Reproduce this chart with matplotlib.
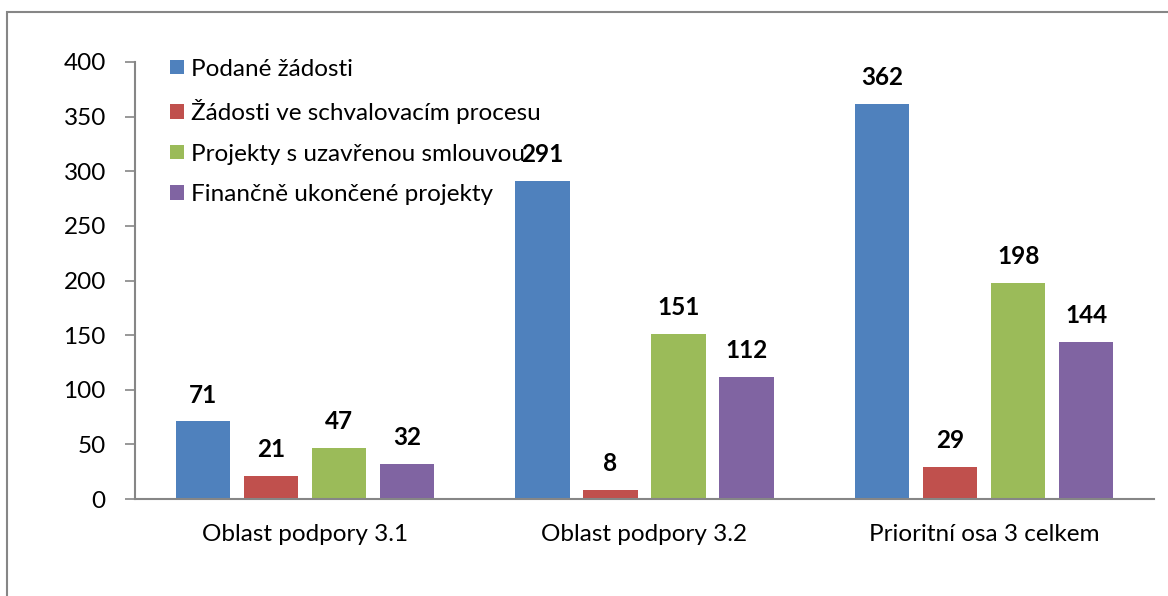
import matplotlib.pyplot as plt
from matplotlib.patches import Rectangle
import numpy as np

categories = ['Oblast podpory 3.1', 'Oblast podpory 3.2', 'Prioritní osa 3 celkem']
series_names = ['Podané žádosti', 'Žádosti ve schvalovacím procesu',
                'Projekty s uzavřenou smlouvou', 'Finančně ukončené projekty']
podane = [71, 291, 362]
schvalovaci = [21, 8, 29]
smlouva = [47, 151, 198]
ukoncene = [32, 112, 144]
colors = ['#4F81BD', '#C0504D', '#9BBB59', '#8064A2']

plt.rcParams['font.family'] = ['Lato', 'DejaVu Sans']
fs = 17.5

fig = plt.figure(figsize=(11.68, 5.96), dpi=100)
ax = fig.add_axes([135/1168, 1-499/596, 1019/1168, 437/596])

# outer chart frame (cut off at right and bottom)
fig.patches.append(Rectangle((7/1168, -0.1), 1.2, 1.1 - 12/596, transform=fig.transFigure,
                             fill=False, edgecolor='#868686', lw=1.5))

x = np.arange(len(categories))
width = 0.16
offsets = [-0.3, -0.1, 0.1, 0.3]
for vals, name, c, off in zip([podane, schvalovaci, smlouva, ukoncene], series_names, colors, offsets):
    bars = ax.bar(x + off, vals, width, color=c, label=name)
    for b, v in zip(bars, vals):
        ax.annotate(str(v), (b.get_x() + b.get_width()/2, v), xytext=(0, 19),
                    textcoords='offset points', ha='center', va='center',
                    fontsize=fs, fontweight='bold')

ax.set_xlim(-0.5, 2.5)
ax.set_ylim(0, 400)
ax.set_yticks(np.arange(0, 401, 50))
ax.set_xticks(x)
ax.set_xticklabels(categories)
ax.tick_params(axis='x', length=0, pad=18, labelsize=fs)
ax.tick_params(axis='y', length=7, width=1.2, color='#868686', labelsize=fs, pad=14, direction='out')
for s in ['top', 'right']:
    ax.spines[s].set_visible(False)
for s in ['left', 'bottom']:
    ax.spines[s].set_color('#868686')
    ax.spines[s].set_linewidth(1.5)

ax.legend(loc='upper left', bbox_to_anchor=(0.025, 1.03), frameon=False, fontsize=fs,
          handlelength=0.55, handleheight=0.55, handletextpad=0.3, labelspacing=0.8,
          borderaxespad=0)

plt.savefig('out.png', dpi=100)
